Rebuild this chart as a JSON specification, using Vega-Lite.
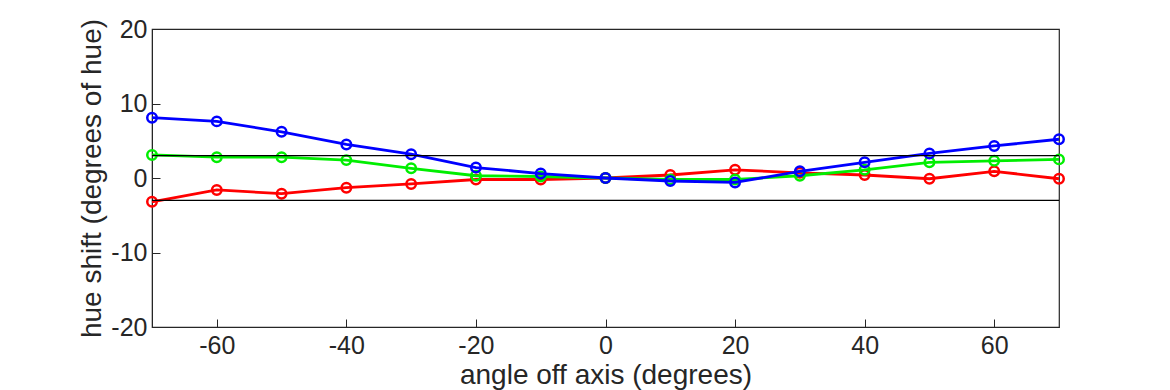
{
  "$schema": "https://vega.github.io/schema/vega-lite/v6.json",
  "width": 907,
  "height": 298,
  "autosize": "none",
  "padding": {"left": 152, "top": 29, "right": 111, "bottom": 63},
  "background": "white",
  "config": {
    "view": {"stroke": "#262626", "strokeWidth": 1.2},
    "font": "Liberation Sans",
    "axis": {
      "grid": false,
      "domainColor": "#262626",
      "tickColor": "#262626",
      "tickSize": -8,
      "labelFontSize": 25,
      "labelColor": "#262626",
      "titleFontSize": 28,
      "titleFontWeight": "normal",
      "titleColor": "#262626",
      "labelExpr": "datum.value + ''"
    }
  },
  "datasets": {
    "series": [
      {"angle": -70, "shift": -3.2, "ch": "red"},
      {"angle": -60, "shift": -1.6, "ch": "red"},
      {"angle": -50, "shift": -2.1, "ch": "red"},
      {"angle": -40, "shift": -1.3, "ch": "red"},
      {"angle": -30, "shift": -0.8, "ch": "red"},
      {"angle": -20, "shift": -0.2, "ch": "red"},
      {"angle": -10, "shift": -0.2, "ch": "red"},
      {"angle": 0, "shift": 0, "ch": "red"},
      {"angle": 10, "shift": 0.4, "ch": "red"},
      {"angle": 20, "shift": 1.1, "ch": "red"},
      {"angle": 30, "shift": 0.7, "ch": "red"},
      {"angle": 40, "shift": 0.4, "ch": "red"},
      {"angle": 50, "shift": -0.1, "ch": "red"},
      {"angle": 60, "shift": 0.9, "ch": "red"},
      {"angle": 70, "shift": -0.1, "ch": "red"},
      {"angle": -70, "shift": 3.1, "ch": "green"},
      {"angle": -60, "shift": 2.8, "ch": "green"},
      {"angle": -50, "shift": 2.8, "ch": "green"},
      {"angle": -40, "shift": 2.4, "ch": "green"},
      {"angle": -30, "shift": 1.3, "ch": "green"},
      {"angle": -20, "shift": 0.3, "ch": "green"},
      {"angle": -10, "shift": 0.2, "ch": "green"},
      {"angle": 0, "shift": 0, "ch": "green"},
      {"angle": 10, "shift": -0.2, "ch": "green"},
      {"angle": 20, "shift": -0.2, "ch": "green"},
      {"angle": 30, "shift": 0.3, "ch": "green"},
      {"angle": 40, "shift": 1.1, "ch": "green"},
      {"angle": 50, "shift": 2.1, "ch": "green"},
      {"angle": 60, "shift": 2.3, "ch": "green"},
      {"angle": 70, "shift": 2.5, "ch": "green"},
      {"angle": -70, "shift": 8.1, "ch": "blue"},
      {"angle": -60, "shift": 7.6, "ch": "blue"},
      {"angle": -50, "shift": 6.2, "ch": "blue"},
      {"angle": -40, "shift": 4.5, "ch": "blue"},
      {"angle": -30, "shift": 3.2, "ch": "blue"},
      {"angle": -20, "shift": 1.4, "ch": "blue"},
      {"angle": -10, "shift": 0.6, "ch": "blue"},
      {"angle": 0, "shift": 0, "ch": "blue"},
      {"angle": 10, "shift": -0.4, "ch": "blue"},
      {"angle": 20, "shift": -0.6, "ch": "blue"},
      {"angle": 30, "shift": 0.9, "ch": "blue"},
      {"angle": 40, "shift": 2.1, "ch": "blue"},
      {"angle": 50, "shift": 3.3, "ch": "blue"},
      {"angle": 60, "shift": 4.3, "ch": "blue"},
      {"angle": 70, "shift": 5.2, "ch": "blue"}
    ],
    "limits": [{"lim": 3}, {"lim": -3}]
  },
  "encoding": {
    "x": {
      "field": "angle", "type": "quantitative",
      "scale": {"domain": [-70, 70], "nice": false, "zero": false},
      "axis": {"values": [-60, -40, -20, 0, 20, 40, 60], "title": "angle off axis (degrees)", "labelPadding": 14, "titlePadding": 3}
    },
    "y": {
      "field": "shift", "type": "quantitative",
      "scale": {"domain": [-20, 20], "nice": false},
      "axis": {"values": [-20, -10, 0, 10, 20], "title": "hue shift (degrees of hue)", "labelPadding": 13, "titlePadding": 4}
    }
  },
  "layer": [
    {
      "data": {"name": "series"},
      "transform": [{"filter": "datum.ch === 'red'"}],
      "mark": {"type": "line", "color": "#ff0000", "strokeWidth": 2.8, "point": {"filled": false, "color": "#ff0000", "size": 90, "strokeWidth": 2.5}}
    },
    {
      "data": {"name": "series"},
      "transform": [{"filter": "datum.ch === 'green'"}],
      "mark": {"type": "line", "color": "#00ee00", "strokeWidth": 2.8, "point": {"filled": false, "color": "#00ee00", "size": 90, "strokeWidth": 2.5}}
    },
    {
      "data": {"name": "series"},
      "transform": [{"filter": "datum.ch === 'blue'"}],
      "mark": {"type": "line", "color": "#0000ff", "strokeWidth": 2.8, "point": {"filled": false, "color": "#0000ff", "size": 90, "strokeWidth": 2.5}}
    },
    {
      "data": {"name": "limits"},
      "mark": {"type": "rule", "color": "black", "strokeWidth": 1.2},
      "encoding": {"y": {"field": "lim", "type": "quantitative"}, "x": null}
    }
  ]
}
